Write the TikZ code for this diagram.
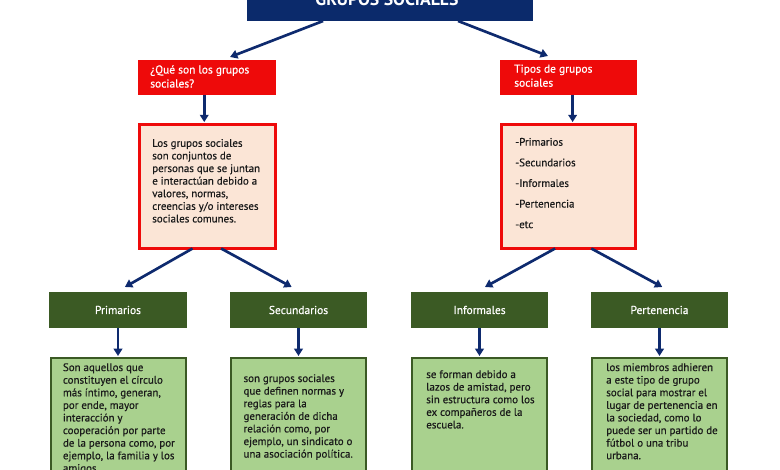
\documentclass[tikz,border=0pt]{standalone}
\usepackage{fontspec}
\setmainfont{PT Sans}
\newfontfamily\medfont{PT Sans}[FakeBold=0.45]
\usetikzlibrary{arrows.meta,calc}

\definecolor{navy}{HTML}{0B2A6B}
\definecolor{arrowblue}{HTML}{0E2A6E}
\definecolor{hdrred}{HTML}{EE0A0A}
\definecolor{peach}{HTML}{FBE5D6}
\definecolor{darkgreen}{HTML}{3B5A24}
\definecolor{lightgreen}{HTML}{A9D18E}
\definecolor{ink}{HTML}{1A1A1A}

\tikzset{
  box/.style={rectangle, inner sep=0pt, outer sep=0pt, anchor=north west},
  titlebox/.style={box, fill=navy},
  redbox/.style={box, fill=hdrred},
  descbox/.style={box, fill=peach, draw=hdrred, line width=2.2pt},
  greenhead/.style={box, fill=darkgreen, text=white, font=\medfont\fontsize{8.6}{10.5}\selectfont},
  greenbody/.style={box, fill=lightgreen, draw=darkgreen, line width=1.8pt},
  arr/.style={draw=arrowblue, line width=2pt, -{Triangle[length=5.5pt,width=6.5pt]}},
  bodytxt/.style={anchor=north west, inner sep=0pt, align=left, text=ink,
    font=\medfont\fontsize{8.2}{9.45}\selectfont},
  redtxt/.style={anchor=north west, inner sep=0pt, align=left, text=white,
    font=\medfont\fontsize{8.6}{10.5}\selectfont},
  listtxt/.style={anchor=north west, inner sep=0pt, align=left, text=ink,
    font=\medfont\fontsize{8.2}{15.45}\selectfont},
}

\begin{document}
\begin{tikzpicture}[x=0.75pt, y=-0.75pt]
  \useasboundingbox (0,0) rectangle (780,470);
  \clip (0,0) rectangle (780,470);

  % title banner
  \node[titlebox, minimum width=214.5pt, minimum height=30.75pt] (title) at (247,-20) {};
  \node[anchor=base, inner sep=0pt, text=white, font=\bfseries\fontsize{13.3}{15}\selectfont]
    (titletxt) at (387,6) {GRUPOS SOCIALES};

  % question headers
  \node[redbox, minimum width=103.5pt, minimum height=26.25pt] (q1) at (138,60) {};
  \node[redtxt] (q1txt) at (150,65) {¿Qué son los grupos\\sociales?};
  \node[redbox, minimum width=102.75pt, minimum height=26.25pt] (t1) at (500,60) {};
  \node[redtxt] (t1txt) at (514,64.3) {Tipos de grupos\\sociales};

  % description boxes
  \node[descbox, minimum width=102pt, minimum height=93pt] (d1) at (139.5,124.5) {};
  \node[bodytxt] (d1txt) at (152,138.8) {Los grupos sociales\\son conjuntos de\\personas que se juntan\\e interactúan debido a\\valores, normas,\\creencias y/o intereses\\sociales comunes.};
  \node[descbox, minimum width=100.5pt, minimum height=93pt] (d2) at (501.5,124.5) {};
  \node[listtxt] (d2txt) at (515,137.7) {-Primarios\\-Secundarios\\-Informales\\-Pertenencia\\-etc};

  % type headers
  \node[greenhead, minimum width=103.5pt, minimum height=27pt] (h1) at (49,292) {Primarios};
  \node[greenhead, minimum width=102.75pt, minimum height=27pt] (h2) at (230,292) {Secundarios};
  \node[greenhead, minimum width=102.75pt, minimum height=27pt] (h3) at (411,292) {Informales};
  \node[greenhead, minimum width=102.75pt, minimum height=27pt] (h4) at (591,292) {Pertenencia};

  % type descriptions
  \node[greenbody, minimum width=100.9pt, minimum height=91.5pt] (c1) at (51.25,358) {};
  \node[greenbody, minimum width=100.9pt, minimum height=91.5pt] (c2) at (231.25,358) {};
  \node[greenbody, minimum width=100.9pt, minimum height=91.5pt] (c3) at (412.25,358) {};
  \node[greenbody, minimum width=100.9pt, minimum height=91.5pt] (c4) at (592.25,358) {};

  \node[bodytxt] (c1txt) at (62.7,363) {Son aquellos que\\constituyen el círculo\\más íntimo, generan,\\por ende, mayor\\interacción y\\cooperación por parte\\de la persona como, por\\ejemplo, la familia y los\\amigos.};
  \node[bodytxt] (c2txt) at (243.3,374) {son grupos sociales\\que definen normas y\\reglas para la\\generación de dicha\\relación como, por\\ejemplo, un sindicato o\\una asociación política.};
  \node[bodytxt] (c3txt) at (426,370) {se forman debido a\\lazos de amistad, pero\\sin estructura como los\\ex compañeros de la\\escuela.};
  \node[bodytxt] (c4txt) at (606,363) {los miembros adhieren\\a este tipo de grupo\\social para mostrar el\\lugar de pertenencia en\\la sociedad, como lo\\puede ser un partido de\\fútbol o una tribu\\urbana.};

  % connectors
  \draw[arr] ($(title.south west)!0.266!(title.south east)$) -- ($(q1.north west)!0.667!(q1.north east)+(0,-3)$);
  \draw[arr] ($(title.south west)!0.738!(title.south east)$) -- ($(t1.north west)!0.35!(t1.north east)+(0,-4)$);

  \coordinate (q1out) at ($(q1.south west)!0.48!(q1.south east)$);
  \coordinate (t1out) at ($(t1.south west)!0.53!(t1.south east)$);
  \draw[arr, shorten >=1.8pt] (q1out) -- (q1out |- d1.north);
  \draw[arr, shorten >=1.8pt] (t1out) -- (t1out |- d2.north);

  \draw[arr] ($(d1.south west)!0.39!(d1.south east)$) -- ($(h1.north west)!0.55!(h1.north east)+(0,-5)$);
  \draw[arr] ($(d1.south west)!0.60!(d1.south east)$) -- ($(h2.north west)!0.45!(h2.north east)+(0,-5)$);
  \draw[arr] ($(d2.south west)!0.40!(d2.south east)$) -- ($(h3.north west)!0.54!(h3.north east)+(0,-5)$);
  \draw[arr] ($(d2.south west)!0.67!(d2.south east)$) -- ($(h4.north west)!0.52!(h4.north east)+(0,-5)$);

  \draw[arr, shorten >=1.5pt] (h1.south) -- (h1.south |- c1.north);
  \draw[arr, shorten >=1.5pt] (h2.south) -- (h2.south |- c2.north);
  \draw[arr, shorten >=1.5pt] (h3.south) -- (h3.south |- c3.north);
  \draw[arr, shorten >=1.5pt] (h4.south) -- (h4.south |- c4.north);
\end{tikzpicture}
\end{document}
